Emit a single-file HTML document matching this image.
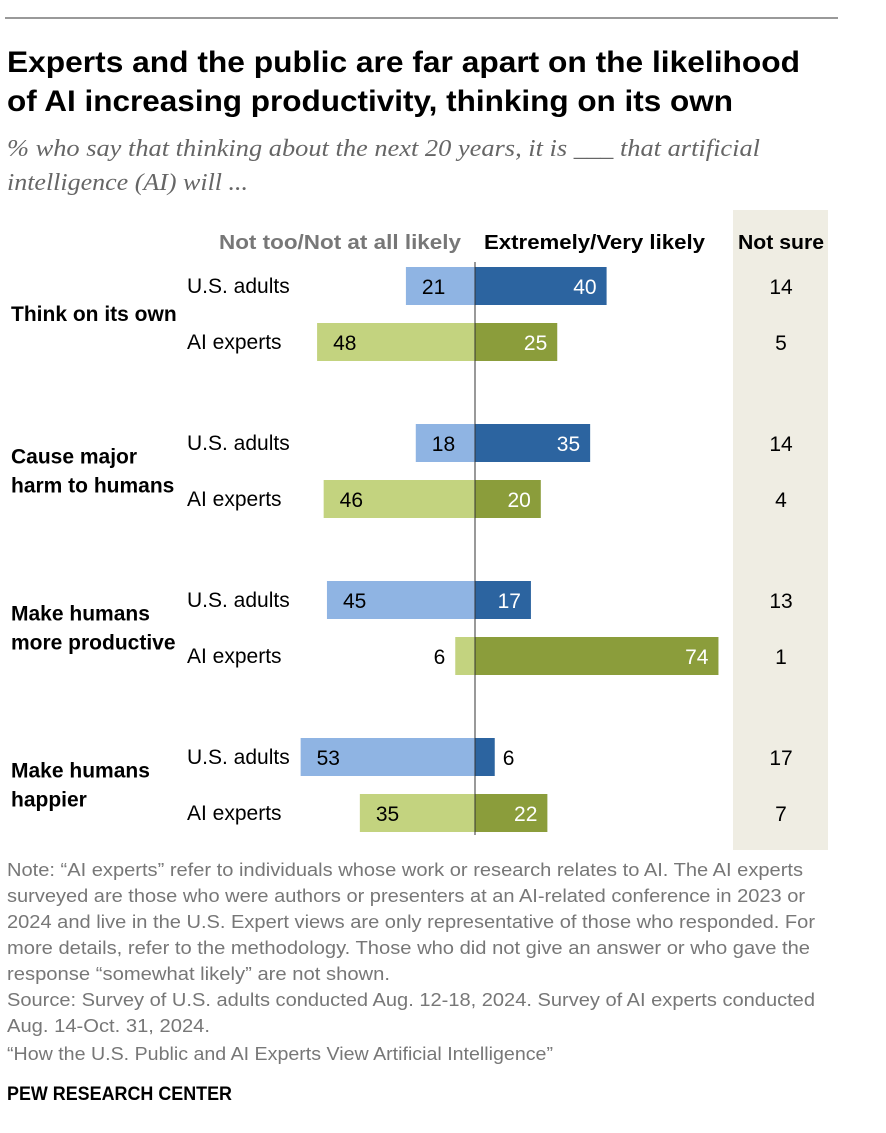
<!DOCTYPE html>
<html><head><meta charset="utf-8"><style>
body{margin:0;background:#fff;width:886px;height:1128px;overflow:hidden;font-family:"Liberation Sans",Arial,sans-serif;}
svg text{font-family:"Liberation Sans",Arial,sans-serif;}
</style></head><body>
<svg id="c" width="886" height="1128">
<line x1="5" y1="18" x2="838" y2="18" stroke="#333" stroke-width="1"/>
<text x="7" y="72" font-size="30" font-weight="bold" fill="#000" textLength="793" lengthAdjust="spacingAndGlyphs">Experts and the public are far apart on the likelihood</text>
<text x="7" y="111" font-size="30" font-weight="bold" fill="#000" textLength="726" lengthAdjust="spacingAndGlyphs">of AI increasing productivity, thinking on its own</text>
<text x="7" y="156" font-size="24" font-style="italic" fill="#666" textLength="753" lengthAdjust="spacingAndGlyphs" style="font-family:'Liberation Serif',serif">% who say that thinking about the next 20 years, it is ___ that artificial</text>
<text x="7" y="190" font-size="24" font-style="italic" fill="#666" textLength="241" lengthAdjust="spacingAndGlyphs" style="font-family:'Liberation Serif',serif">intelligence (AI) will ...</text>
<rect x="733" y="210" width="95" height="640" fill="#efede3"/>
<text x="219" y="249" font-size="20" font-weight="bold" fill="#777" textLength="242" lengthAdjust="spacingAndGlyphs">Not too/Not at all likely</text>
<text x="484" y="249" font-size="20" font-weight="bold" fill="#000" textLength="221" lengthAdjust="spacingAndGlyphs">Extremely/Very likely</text>
<text x="738" y="249" font-size="20" font-weight="bold" fill="#000" textLength="86" lengthAdjust="spacingAndGlyphs">Not sure</text>
<g id="bars"></g>
<line x1="475" y1="262" x2="475" y2="835" stroke="#333" stroke-width="1"/>
<g font-size="18" fill="#777">
<text x="7" y="876" textLength="796" lengthAdjust="spacingAndGlyphs">Note: “AI experts” refer to individuals whose work or research relates to AI. The AI experts</text>
<text x="7" y="902" textLength="798" lengthAdjust="spacingAndGlyphs">surveyed are those who were authors or presenters at an AI-related conference in 2023 or</text>
<text x="7" y="928" textLength="808" lengthAdjust="spacingAndGlyphs">2024 and live in the U.S. Expert views are only representative of those who responded. For</text>
<text x="7" y="954" textLength="803" lengthAdjust="spacingAndGlyphs">more details, refer to the methodology. Those who did not give an answer or who gave the</text>
<text x="7" y="980" textLength="383" lengthAdjust="spacingAndGlyphs">response “somewhat likely” are not shown.</text>
<text x="7" y="1006" textLength="808" lengthAdjust="spacingAndGlyphs">Source: Survey of U.S. adults conducted Aug. 12-18, 2024. Survey of AI experts conducted</text>
<text x="7" y="1032" textLength="203" lengthAdjust="spacingAndGlyphs">Aug. 14-Oct. 31, 2024.</text>
<text x="7" y="1060" textLength="546" lengthAdjust="spacingAndGlyphs">“How the U.S. Public and AI Experts View Artificial Intelligence”</text>
</g>
<text x="7" y="1100" font-size="19" font-weight="bold" fill="#000" textLength="225" lengthAdjust="spacingAndGlyphs">PEW RESEARCH CENTER</text>
</svg>
<script>
const categories=[["Think on its own"],["Cause major","harm to humans"],["Make humans","more productive"],["Make humans","happier"]];
const groups=["U.S. adults","AI experts"];
const notLikelyUS=[21,18,45,53];
const likelyUS=[40,35,17,6];
const notSureUS=[14,14,13,17];
const notLikelyAI=[48,46,6,35];
const likelyAI=[25,20,74,22];
const notSureAI=[5,4,1,7];
const NS="http://www.w3.org/2000/svg";
const g=document.getElementById('bars');
const cx=475,k=3.29;
const xs=v=>v*k;
const rowY=(c,r)=>286+c*157+r*56;
function mk(t,a){const e=document.createElementNS(NS,t);for(const n in a)e.setAttribute(n,a[n]);g.appendChild(e);return e;}
const colors=[["#8fb4e3","#2c64a0"],["#c3d37f","#8b9d3b"]];
categories.forEach((lines,c)=>{
  const mid=(rowY(c,0)+rowY(c,1))/2;
  lines.forEach((l,i)=>{
    const t=mk('text',{x:11,y:mid+7+(i-(lines.length-1)/2)*29,'font-size':21,'font-weight':'bold',fill:'#000'});
    
    
    t.textContent=l;
  });
  [[notLikelyUS,likelyUS,notSureUS],[notLikelyAI,likelyAI,notSureAI]].forEach((s,r)=>{
    const y=rowY(c,r),h=38;
    const lbl=mk('text',{x:187,y:y+7,'font-size':21,fill:'#000'});
    
    
    lbl.textContent=groups[r];
    const nl=s[0][c],li=s[1][c],ns=s[2][c];
    const b1=mk('rect',{x:cx-xs(nl),y:y-h/2,width:xs(nl),height:h,fill:colors[r][0]});
    
    
    const b2=mk('rect',{x:cx,y:y-h/2,width:xs(li),height:h,fill:colors[r][1]});
    
    
    const inL=xs(nl)>40;
    const t1=mk('text',{x:inL?cx-xs(nl)+16:cx-xs(nl)-10,y:y+8,'font-size':21,fill:'#000','text-anchor':inL?'start':'end'});
    
    
    t1.textContent=nl;
    const inR=xs(li)>40;
    const t2=mk('text',{x:inR?cx+xs(li)-10:cx+xs(li)+8,y:y+8,'font-size':21,fill:inR?'#fff':'#000','text-anchor':inR?'end':'start'});
    
    
    t2.textContent=li;
    const t3=mk('text',{x:781,y:y+8,'font-size':21,fill:'#000','text-anchor':'middle'});
    
    
    t3.textContent=ns;
  });
});
</script>
</body></html>
